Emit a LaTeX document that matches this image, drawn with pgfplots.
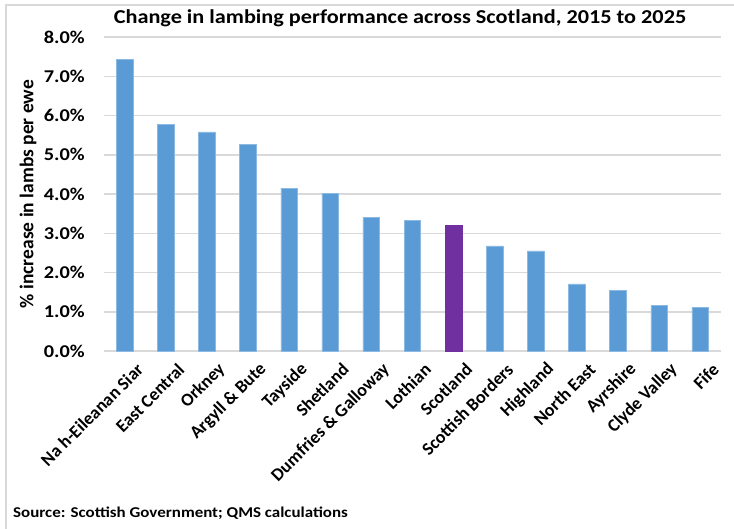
\documentclass[border=0pt]{standalone}
\usepackage{pgfplots}
\pgfplotsset{compat=1.18}
\usepackage{fontspec}
\setmainfont{Carlito}[FakeStretch=1.13]
\newfontfamily\plainfont{Carlito}
\definecolor{barblue}{HTML}{5B9BD5}
\definecolor{barpurple}{HTML}{7030A0}
\definecolor{gridgray}{HTML}{D9D9D9}
\begin{document}
\begin{tikzpicture}
\path[use as bounding box] (0pt,0pt) rectangle (734pt,528pt);
\draw[gridgray, line width=1.5pt] (6pt,-10pt) -- (6pt,523pt) -- (745pt,523pt);
\begin{axis}[
  at={(104pt,177pt)}, anchor=south west,
  scale only axis, width=616.7pt, height=314pt,
  xmin=-0.5, xmax=14.5, ymin=0, ymax=8,
  ytick={0,1,2,3,4,5,6,7,8},
  yticklabels={0.0\%,1.0\%,2.0\%,3.0\%,4.0\%,5.0\%,6.0\%,7.0\%,8.0\%},
  xtick={0,...,14},
  xticklabels={Na h-Eileanan Siar,East Central,Orkney,Argyll \& Bute,Tayside,Shetland,Dumfries \& Galloway,Lothian,Scotland,Scottish Borders,Highland,North East,Ayrshire,Clyde Valley,Fife},
  major tick length=0pt,
  axis line style={draw=none},
  ymajorgrids, grid style={gridgray, line width=1.5pt},
  yticklabel style={font=\fontsize{18}{20}\selectfont\bfseries, anchor=east, inner sep=0pt, xshift=-19pt},
  xticklabel style={font=\plainfont\fontsize{18}{20}\selectfont\bfseries, rotate=45, anchor=east, inner sep=0pt, xshift=0pt, yshift=-22pt},
  ylabel={\% increase in lambs per ewe},
  ylabel style={at={(axis description cs:-0.123,0.5)}, anchor=center, font=\plainfont\fontsize{19.5}{21}\selectfont\bfseries},
  title={Change in lambing performance across Scotland, 2015 to 2025},
  title style={at={(axis description cs:0.48,1.0255)}, anchor=base, inner sep=0pt, font=\fontsize{19.7}{22}\selectfont\bfseries},
  clip=false,
]
\addplot[ybar, bar width=16.5pt, bar shift=0pt, fill=barblue, draw=barblue!70!white, line width=0.5pt] coordinates {
(0,7.43) (1,5.78) (2,5.58) (3,5.26) (4,4.15) (5,4.02) (6,3.40) (7,3.33)
(9,2.68) (10,2.55) (11,1.71) (12,1.54) (13,1.16) (14,1.11)};
\addplot[ybar, bar width=16.5pt, bar shift=0pt, fill=barpurple, draw=barpurple] coordinates {(8,3.20)};
\end{axis}
\node[anchor=base west, inner sep=0pt, font=\fontsize{15}{17}\selectfont\bfseries] at (13pt,11pt) {Source: Scottish Government; QMS calculations};
\end{tikzpicture}
\end{document}
